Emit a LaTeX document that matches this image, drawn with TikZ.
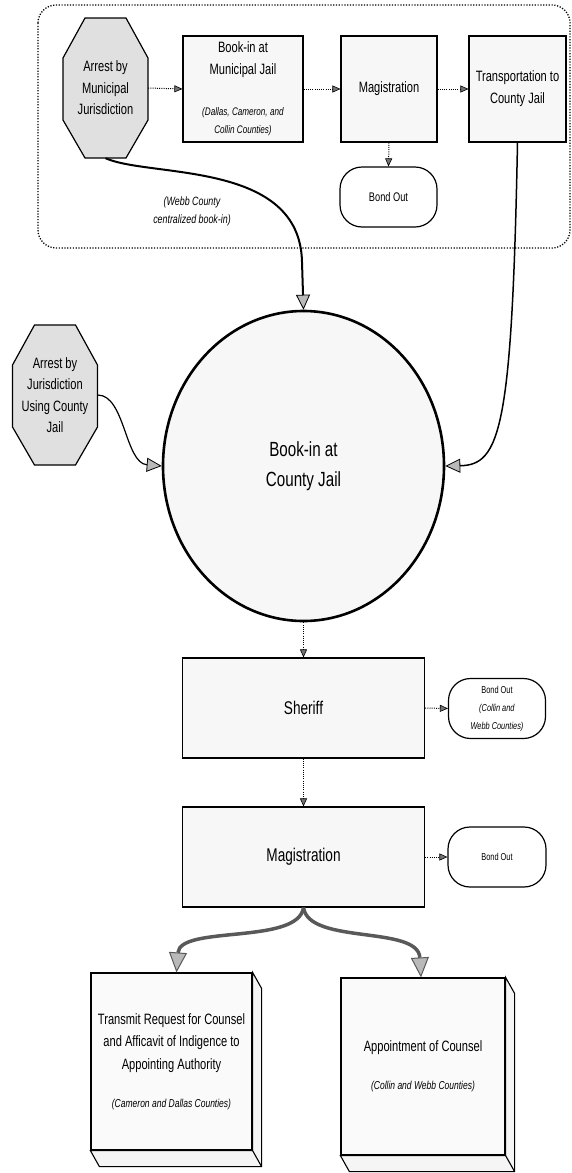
\documentclass[tikz,border=0pt]{standalone}
\usepackage{fontspec}
\setmainfont{Liberation Sans}[FakeStretch=0.74]
\usetikzlibrary{arrows.meta,shapes.geometric}

% octagon outline around a centre, drawn before its text node
\newcommand{\octagonat}[2]{%
  \draw[octline] (#1-20.5,#2-70) -- (#1+20.5,#2-70) -- (#1+42.5,#2-30)
    -- (#1+42.5,#2+32) -- (#1+20.5,#2+70) -- (#1-20.5,#2+70)
    -- (#1-42.5,#2+32) -- (#1-42.5,#2-30) -- cycle;}

\begin{document}
\begin{tikzpicture}[x=1pt,y=-1pt,
  every node/.style={inner sep=0pt, align=center},
  box/.style={draw=black, line width=1.2pt, fill=gray!6, rectangle},
  topbox/.style={box, minimum height=106pt, font=\fontsize{15}{22}\selectfont},
  bigbox/.style={box, minimum width=242pt, minimum height=100pt, font=\fontsize{18.4}{22}\selectfont},
  octtext/.style={minimum width=85pt, minimum height=140pt, font=\fontsize{15}{21.5}\selectfont},
  octline/.style={draw=black, line width=1.2pt, fill=gray!24},
  bondbox/.style={draw=black, line width=1.2pt, fill=white, rounded corners=22pt,
    minimum width=97pt, minimum height=60pt},
  cube/.style={box, fill=gray!4, font=\fontsize{15}{22.5}\selectfont},
  cubeside/.style={draw=black, line width=1.1pt, fill=gray!8},
  container/.style={line width=1.3pt, dash pattern=on 1.2pt off 1.6pt, rounded corners=18pt},
  dotarrow/.style={line width=1pt, dash pattern=on 1pt off 1.2pt,
    -{Triangle[length=8pt,width=7pt,fill=black!55,line width=0.6pt]}},
  flow/.style={draw=black, -{Triangle[length=15pt,width=14pt,fill=gray!55,line width=0.8pt]}},
  heavy/.style={line width=3.5pt, draw=black!65,
    -{Triangle[length=20pt,width=18pt,fill=gray!55,line width=1pt]}},
]
\fill[white] (0,0) rectangle (572,1173);
\useasboundingbox (0,0) rectangle (572,1173);

% municipal stage, grouped by the dotted frame
\draw[container] (38,5) rectangle (570,248);

\octagonat{105.5}{88}
\node[octtext] (oct1) at (105.5,88) {Arrest by\\ Municipal\\ Jurisdiction};

\node[topbox, minimum width=120pt] (muni) at (243,89)
  {Book-in at\\ Municipal Jail\\[19pt]
   \textit{\fontsize{11}{18}\selectfont (Dallas, Cameron, and}\\[-4pt]
   \textit{\fontsize{11}{18}\selectfont Collin Counties)}};
\node[topbox, minimum width=96pt] (mag1) at (389,89) {Magistration};
\node[topbox, minimum width=97pt] (trans) at (517.5,89) {Transportation to\\ County Jail};
\node[bondbox, font=\fontsize{12.5}{16}\selectfont] (bond1) at (388.5,197) {Bond Out};

\node[font=\fontsize{12}{18}\selectfont\itshape] (webb) at (192,211)
  {(Webb County\\ centralized book-in)};

\draw[dotarrow] (oct1.east) -- (muni.west);
\draw[dotarrow] (muni.east) -- (mag1.west);
\draw[dotarrow] (mag1.east) -- (trans.west);
\draw[dotarrow] (mag1.south) -- (bond1.north);

% county jail book-in
\octagonat{55}{395}
\node[octtext] (oct2) at (55,395) {Arrest by\\ Jurisdiction\\ Using County\\ Jail};

\node[ellipse, draw=black, line width=2.6pt, fill=gray!6, minimum width=281pt,
  minimum height=310pt, font=\fontsize{20.5}{30}\selectfont] (circ) at (303.5,466)
  {Book-in at\\ County Jail};

\draw[flow, line width=2pt] (oct1.south) .. controls (150,178) and (300,160) .. (302,262) -- (circ.north);
\draw[flow, line width=1.5pt] (trans.south) .. controls (512,430) and (500,465) .. (circ.east);
\draw[flow, line width=1.2pt] (oct2.east) .. controls (125,395) and (125,463) .. (circ.west);

% sheriff and magistration
\node[bigbox] (sheriff) at (303.5,708) {Sheriff};
\node[bigbox] (mag2) at (303.5,857) {Magistration};
\node[bondbox, font=\fontsize{10}{18}\selectfont] (bond2) at (497,708.5)
  {Bond Out\\ \textit{(Collin and}\\ \textit{Webb Counties)}};
\node[bondbox, minimum width=98pt, font=\fontsize{10}{14}\selectfont] (bond3) at (497,857) {Bond Out};

\draw[dotarrow] (circ.south) -- (sheriff.north);
\draw[dotarrow] (sheriff.south) -- (mag2.north);
\draw[dotarrow] (sheriff.east) -- (bond2.west);
\draw[dotarrow] (mag2.east) -- (bond3.west);

% counsel outcomes, drawn as blocks with depth
\node[cube, minimum width=161pt, minimum height=177pt] (req) at (171.5,1061.5)
  {Transmit Request for Counsel\\ and Afficavit of Indigence to\\ Appointing Authority\\[15.5pt]
   \textit{\fontsize{11.5}{18}\selectfont (Cameron and Dallas Counties)}};
\draw[cubeside] (req.north east) -- ([shift={(9,16)}]req.north east)
  -- ([shift={(9,16)}]req.south east) -- ([shift={(9,16)}]req.south west)
  -- (req.south west) -- (req.south east) -- cycle;
\draw[line width=1.1pt] (req.south east) -- ([shift={(9,16)}]req.south east);

\node[cube, minimum width=164pt, minimum height=177pt] (appt) at (423,1066.5)
  {Appointment of Counsel\\[15.5pt]
   \textit{\fontsize{11.5}{18}\selectfont (Collin and Webb Counties)}};
\draw[cubeside] (appt.north east) -- ([shift={(9,16)}]appt.north east)
  -- ([shift={(9,16)}]appt.south east) -- ([shift={(9,16)}]appt.south west)
  -- (appt.south west) -- (appt.south east) -- cycle;
\draw[line width=1.1pt] (appt.south east) -- ([shift={(9,16)}]appt.south east);

\draw[heavy] (mag2.south) .. controls (298,945) and (180,925) .. ([xshift=5pt]req.north);
\draw[heavy] (mag2.south) .. controls (309,945) and (418,925) .. ([xshift=-2pt]appt.north);
\end{tikzpicture}
\end{document}
